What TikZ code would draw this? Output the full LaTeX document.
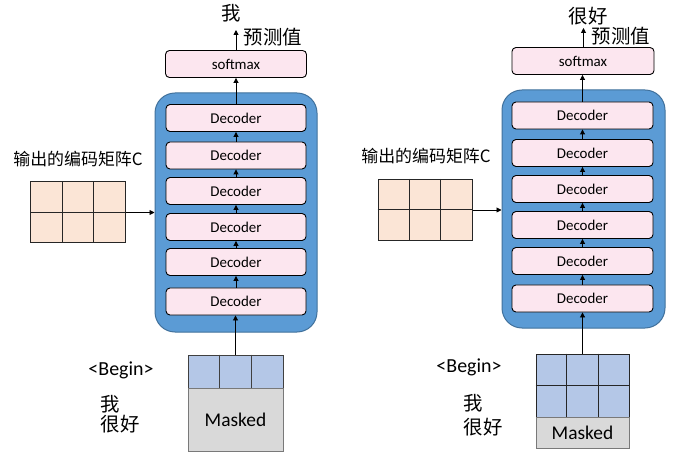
\documentclass[tikz,border=0pt]{standalone}
\usepackage{fontspec}
\setmainfont{Carlito}
\newfontfamily\cjk{Noto Sans CJK SC}
\usetikzlibrary{arrows.meta,calc}
\definecolor{contblue}{HTML}{5B9BD5}
\definecolor{contedge}{HTML}{41719C}
\definecolor{decpink}{HTML}{FCE6EF}
\definecolor{peach}{HTML}{FBE5D6}
\definecolor{cellblue}{HTML}{B4C7E7}
\definecolor{maskgray}{HTML}{D9D9D9}
\definecolor{edgegray}{HTML}{404040}
\tikzset{
  container/.style={draw=contedge, fill=contblue, line width=1bp, rounded corners=20bp, inner sep=0pt},
  decbox/.style={draw=black, fill=decpink, rounded corners=4bp, line width=0.9bp, inner sep=0pt,
    minimum height=27bp, font=\fontsize{15}{18}\selectfont},
  arr/.style={-{Triangle[length=5bp,width=5bp]}, line width=0.9bp, black},
  cmat/.style={draw=black!85, fill=peach, line width=1bp, inner sep=0pt, minimum width=94bp, minimum height=61bp},
  gridline/.style={draw=black!85, line width=1bp},
  bluecells/.style={draw=edgegray, fill=cellblue, line width=1bp, inner sep=0pt},
  maskbox/.style={draw=edgegray!70, fill=maskgray, line width=1bp, inner sep=0pt, font=\fontsize{19.5}{23}\selectfont},
  cjklabel/.style={font=\cjk\fontsize{19.5}{23}\selectfont, inner sep=0pt},
  cjksmall/.style={font=\cjk\fontsize{17}{20}\selectfont, inner sep=0pt},
  beginlabel/.style={font=\fontsize{20}{23}\selectfont, inner sep=0pt}
}
\begin{document}
\begin{tikzpicture}[x=1bp,y=-1bp]
\useasboundingbox[fill=white] (0,0) rectangle (694,459);

% ================= LEFT PANEL =================
\node[container, minimum width=162bp, minimum height=239bp] (contL) at (236,212.5) {};
\node[decbox, minimum width=141bp] (smL) at (236,64) {softmax};
\foreach \i/\y in {1/118,2/155.5,3/191,4/227,5/262,6/301.5}{
  \node[decbox, minimum width=140bp] (dL\i) at (236,\y) {Decoder};
}
\foreach \a/\b in {2/1,3/2,4/3,5/4,6/5}{
  \draw[arr] (dL\a.north) -- (dL\b.south);
}
\draw[arr] (dL1.north) -- (smL.south);
\coordinate (outL) at (236,30);
\draw[arr] (smL.north) -- (outL);
\node[cjklabel] (predL) at (231,13) {我};
\node[cjklabel] (valL) at (273,37) {预测值};

\node[cjksmall] (cTxtL) at (78,159) {输出的编码矩阵C};
\node[cmat] (CL) at (78,212.5) {};
\draw[gridline] ($(CL.north west)!1/3!(CL.north east)$) -- ($(CL.south west)!1/3!(CL.south east)$);
\draw[gridline] ($(CL.north west)!2/3!(CL.north east)$) -- ($(CL.south west)!2/3!(CL.south east)$);
\draw[gridline] (CL.west) -- (CL.east);
\draw[arr] (CL.east) -- (CL.east -| contL.west);

\node[bluecells, minimum width=95bp, minimum height=33bp] (mbL) at (235.5,371.5) {};
\draw[edgegray, line width=1bp] ($(mbL.north west)!1/3!(mbL.north east)$) -- ($(mbL.south west)!1/3!(mbL.south east)$);
\draw[edgegray, line width=1bp] ($(mbL.north west)!2/3!(mbL.north east)$) -- ($(mbL.south west)!2/3!(mbL.south east)$);
\node[maskbox, minimum width=95bp, minimum height=63bp] (mgL) at (235.5,419.5) {Masked};
\draw[arr] (mbL.north) -- (mbL.north |- dL6.south);

\node[beginlabel] (bgL) at (121,370) {<Begin>};
\node[cjklabel] (w1L) at (110,404) {我};
\node[cjklabel] (w2L) at (120,424) {很好};

% ================= RIGHT PANEL =================
\node[container, minimum width=163bp, minimum height=238bp] (contR) at (583.5,209) {};
\node[decbox, minimum width=142bp] (smR) at (583,61) {softmax};
\foreach \i/\y in {1/115.5,2/153,3/189,4/225,5/261,6/298.5}{
  \node[decbox, minimum width=141bp] (dR\i) at (582.5,\y) {Decoder};
}
\foreach \a/\b in {2/1,3/2,4/3,5/4,6/5}{
  \draw[arr] (dR\a.north) -- (dR\b.south);
}
\draw[arr] (dR1.north) -- (dR1.north |- smR.south);
\coordinate (outR) at (583.5,28);
\draw[arr] (smR.north -| outR) -- (outR);
\node[cjklabel] (predR) at (588,16) {很好};
\node[cjklabel] (valR) at (621,36) {预测值};

\node[cjksmall] (cTxtR) at (426,156) {输出的编码矩阵C};
\node[cmat] (CR) at (425,210) {};
\draw[gridline] ($(CR.north west)!1/3!(CR.north east)$) -- ($(CR.south west)!1/3!(CR.south east)$);
\draw[gridline] ($(CR.north west)!2/3!(CR.north east)$) -- ($(CR.south west)!2/3!(CR.south east)$);
\draw[gridline] (CR.west) -- (CR.east);
\draw[arr] (CR.east) -- (CR.east -| contR.west);

\node[bluecells, draw=black!85, minimum width=93bp, minimum height=63bp] (mbR) at (582.5,385.5) {};
\draw[black!85, line width=1bp] ($(mbR.north west)!1/3!(mbR.north east)$) -- ($(mbR.south west)!1/3!(mbR.south east)$);
\draw[black!85, line width=1bp] ($(mbR.north west)!2/3!(mbR.north east)$) -- ($(mbR.south west)!2/3!(mbR.south east)$);
\draw[black!85, line width=1bp] (mbR.west) -- (mbR.east);
\node[maskbox, minimum width=93bp, minimum height=31bp] (mgR) at (582.5,432.5) {Masked};
\draw[arr] (mbR.north) -- (mbR.north |- dR6.south);

\node[beginlabel] (bgR) at (469,367) {<Begin>};
\node[cjklabel] (w1R) at (473,403) {我};
\node[cjklabel] (w2R) at (483,427) {很好};
\end{tikzpicture}
\end{document}
